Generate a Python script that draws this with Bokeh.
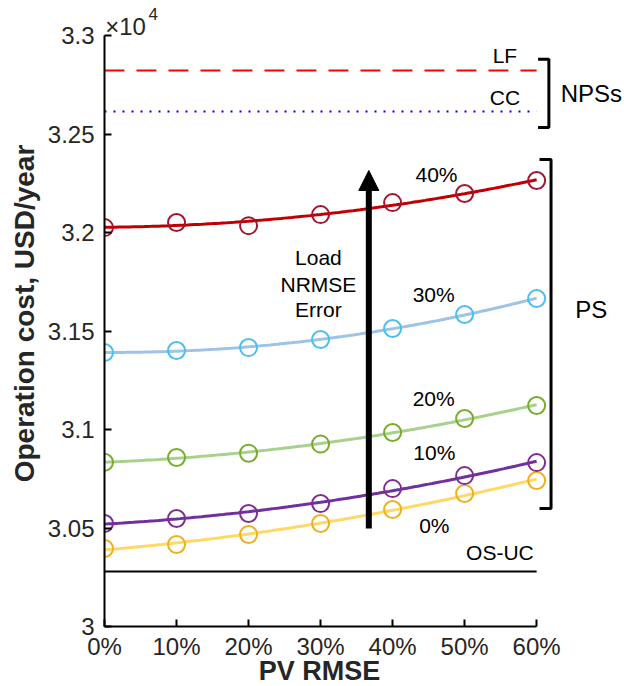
import numpy as np
from bokeh.plotting import figure
from bokeh.models import FixedTicker, CustomJSTickFormatter, Arrow, NormalHead
from bokeh.core.properties import value
from bokeh.embed import file_html
from bokeh.resources import INLINE

# ---------------- data ----------------
pv_rmse = [0, 10, 20, 30, 40, 50, 60]
load_levels = ["0%", "10%", "20%", "30%", "40%"]
cost_0 = [30396, 30416, 30467, 30523, 30594, 30675, 30741]
cost_10 = [30523, 30548, 30574, 30624, 30700, 30766, 30832]
cost_20 = [30834, 30858, 30880, 30926, 30985, 31056, 31122]
cost_30 = [31391, 31401, 31416, 31457, 31513, 31584, 31665]
cost_40 = [32025, 32051, 32035, 32091, 32152, 32198, 32264]
lf_cost = 32822
cc_cost = 32614
os_uc_cost = 30279
y_ticks = [30000, 30500, 31000, 31500, 32000, 32500, 33000]
x_ticks = [0, 10, 20, 30, 40, 50, 60]

series = [cost_0, cost_10, cost_20, cost_30, cost_40]
line_colors = ["#FFD966", "#7030A0", "#A9D18E", "#9DC3E6", "#C00000"]
marker_colors = ["#EDB120", "#7E2F8E", "#77AC30", "#4DBEEE", "#A2142F"]

FONT = "Liberation Sans"
TXT = "#262626"

# y range extends a little above 3.3e4 so the "x10^4" exponent can sit there
p = figure(x_range=(0, 72.2), y_range=(30000, 33178),
           frame_width=520, frame_height=626,
           output_backend="svg", toolbar_location=None,
           min_border_left=104, min_border_right=0, min_border_top=0, min_border_bottom=50)
p.outline_line_color = None
p.grid.visible = False
p.background_fill_color = "white"

# axes
p.xaxis.ticker = FixedTicker(ticks=x_ticks)
p.xaxis.formatter = CustomJSTickFormatter(code="return tick + '%';")
p.xaxis.bounds = (0, 60)
p.yaxis.ticker = FixedTicker(ticks=y_ticks)
p.yaxis.formatter = CustomJSTickFormatter(code="return String(Math.round(tick) / 10000);")
p.yaxis.bounds = (30000, 33000)
for ax in (p.xaxis, p.yaxis):
    ax.axis_line_color = "black"
    ax.axis_line_width = 2
    ax.major_tick_line_color = "black"
    ax.major_tick_line_width = 2
    ax.major_tick_in = 7
    ax.major_tick_out = 0
    ax.minor_tick_line_color = None
    ax.major_label_text_font = FONT
    ax.major_label_text_font_size = "24px"
    ax.major_label_text_color = TXT
    ax.axis_label_text_font = FONT
    ax.axis_label_text_font_style = "bold"
    ax.axis_label_text_color = TXT
p.xaxis.axis_label_text_font_size = "27px"
p.yaxis.axis_label_text_font_size = "28px"
# padded with no-break spaces so the label centres under the 0-60% axis span
p.xaxis.axis_label = "PV RMSE" + "\u00a0" * 12
p.yaxis.axis_label = "Operation cost, USD/year"
p.xaxis.major_label_standoff = 6
p.xaxis.axis_label_standoff = -7
p.yaxis.major_label_standoff = 10
p.yaxis.axis_label_standoff = 5

# reference lines
p.line([0, 60], [lf_cost, lf_cost], line_color="#FF0000", line_width=2, line_dash="20 12")
p.line([0, 60], [cc_cost, cc_cost], line_color="#0000FF", line_width=2, line_dash="2 7")
p.line([0, 60], [os_uc_cost, os_uc_cost], line_color="black", line_width=2)

# series: fitted smooth curve + circle markers
xs_fine = np.linspace(0, 60, 121)
for vals, lc, mc in zip(series, line_colors, marker_colors):
    coef = np.polyfit(pv_rmse, vals, 2)
    p.line(xs_fine, np.polyval(coef, xs_fine), line_color=lc, line_width=3)
    p.scatter(pv_rmse, vals, marker="circle", size=17, fill_color=None,
              line_color=mc, line_width=2)

# arrow
p.add_layout(Arrow(end=NormalHead(size=20, fill_color="black", line_color="black"),
                   x_start=36.7, y_start=30497, x_end=36.7, y_end=32315,
                   line_color="black", line_width=6))

# texts
def txt(x, y, s, size="21px", align="center", color="black"):
    p.text(x=[x], y=[y], text=[s], text_font=value(FONT), text_font_size=value(size),
           text_color=color, text_align=align, text_baseline="middle")

label_pos = {"40%": (46.1, 32294), "30%": (45.7, 31685), "20%": (45.7, 31157),
             "10%": (45.8, 30883), "0%": (45.8, 30513)}
for lab in load_levels:
    txt(label_pos[lab][0], label_pos[lab][1], lab)
txt(54.9, 30376, "OS-UC")
txt(55.6, 32898, "LF")
txt(55.6, 32685, "CC")
txt(67.6, 32705, "NPSs", "24px")
txt(67.6, 31609, "PS", "24px")
for s, yy in zip(["Load", "NRMSE", "Error"], [31873, 31736, 31609]):
    txt(29.7, yy, s)

# exponent of the y axis
txt(0.1, 33046, "×10", "24px", "left", TXT)
txt(6.1, 33112, "4", "17px", "left", TXT)

# brackets
def bracket(xv, x0, ytop, ybot):
    p.line([x0, xv, xv, x0], [ytop, ytop, ybot, ybot], line_color="black", line_width=3)

bracket(61.7, 60.2, 32880, 32533)
bracket(62.0, 60.4, 32371, 30599)

open("out.html", "w").write(file_html(p, INLINE))
